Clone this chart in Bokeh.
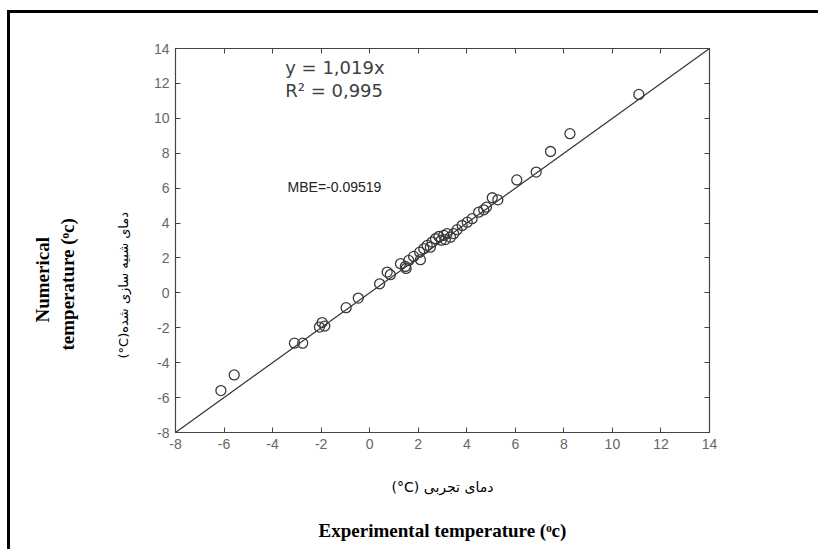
from bokeh.plotting import figure
from bokeh.models import Range1d, LinearAxis, Label, FixedTicker, Title
from bokeh.embed import file_html
from bokeh.resources import INLINE

# Experimental (x) vs numerical (y) temperature
exp_temp = [-6.13, -5.58, -3.10, -2.76, -2.07, -1.96, -1.85, -0.97, -0.47,
            0.41, 0.72, 0.85, 1.27, 1.47, 1.50, 1.61, 1.81, 2.09, 2.06, 2.23,
            2.37, 2.50, 2.57, 2.71, 2.85, 2.95, 3.05, 3.12, 3.19, 3.33, 3.46,
            3.60, 3.81, 4.02, 4.22, 4.49, 4.70, 4.81, 5.05, 5.28,
            6.06, 6.86, 7.45, 8.25, 11.09]
num_temp = [-5.60, -4.70, -2.88, -2.88, -1.96, -1.70, -1.90, -0.85, -0.30,
            0.52, 1.19, 1.04, 1.67, 1.51, 1.40, 1.86, 2.09, 1.90, 2.33, 2.53,
            2.72, 2.62, 2.91, 3.10, 3.23, 3.02, 3.29, 3.05, 3.39, 3.19, 3.39,
            3.62, 3.86, 4.05, 4.25, 4.62, 4.76, 4.91, 5.45, 5.33,
            6.47, 6.92, 8.10, 9.12, 11.37]

line_x = [-8, 14]
line_y = [-8, 14]

tick_values = [-8, -6, -4, -2, 0, 2, 4, 6, 8, 10, 12, 14]
tick_labels = ["-8", "-6", "-4", "-2", "0", "2", "4", "6", "8", "10", "12", "14"]

RLE, PDF, LRI, PDI = "\u202b", "\u202c", "\u2066", "\u2069"
eq_text = "y = 1,019x"
r2_text = "R\u00b2 = 0,995"
mbe_text = "MBE=-0.09519"
x_title_fa = RLE + "دمای تجربی " + LRI + "(°C)" + PDI + PDF
x_title_en = "Experimental temperature (\u1d52c)"
y_title_fa = RLE + "دمای شبیه سازی شده" + LRI + "(°C)" + PDI + PDF
y_title_en1 = "Numerical"
y_title_en2 = "temperature (\u1d52c)"

p = figure(frame_width=534, frame_height=384,
           min_border_left=165, min_border_right=109,
           min_border_top=35, min_border_bottom=117,
           x_range=Range1d(-8, 14), y_range=Range1d(-8, 14),
           output_backend="svg", toolbar_location=None)
p.styles = {"margin-top": "10px", "margin-left": "7px",
            "border-top": "3px solid #000", "border-left": "3px solid #000"}
p.xgrid.visible = False
p.ygrid.visible = False
p.outline_line_color = "#444444"
p.background_fill_color = "white"
p.border_fill_color = "white"

bottom_axis = p.below[0]
left_axis = p.left[0]
top_axis = LinearAxis()
right_axis = LinearAxis()
p.add_layout(top_axis, "above")
p.add_layout(right_axis, "right")

overrides = {v: s for v, s in zip(tick_values, tick_labels)}
for ax in [bottom_axis, left_axis, top_axis, right_axis]:
    ax.ticker = FixedTicker(ticks=tick_values, minor_ticks=[])
    ax.major_tick_in = 5
    ax.major_tick_out = 0
    ax.minor_tick_in = 0
    ax.minor_tick_out = 0
    ax.minor_tick_line_color = None
    ax.axis_line_color = "#444444"
    ax.axis_line_width = 1.2
    ax.major_tick_line_color = "#444444"
    ax.major_label_text_font = "Liberation Sans"
    ax.major_label_text_font_size = "14px"
    ax.major_label_text_color = "#666666"
    ax.major_label_standoff = 6
    ax.major_label_overrides = dict(overrides)
for ax in [top_axis, right_axis]:
    ax.major_label_overrides = {v: "" for v in tick_values}
    ax.major_label_text_font_size = "0px"
    ax.major_label_standoff = 0

# Persian x title as the bottom axis label
bottom_axis.axis_label = x_title_fa
bottom_axis.axis_label_text_font = "DejaVu Sans"
bottom_axis.axis_label_text_font_size = "14px"
bottom_axis.axis_label_text_font_style = "normal"
bottom_axis.axis_label_text_color = "#000000"
bottom_axis.axis_label_standoff = 27

# English x title on an extra, tickless axis below
en_axis = LinearAxis(ticker=FixedTicker(ticks=[]), axis_label=x_title_en)
en_axis.axis_line_color = None
en_axis.major_tick_line_color = None
en_axis.minor_tick_line_color = None
en_axis.major_label_standoff = 0
en_axis.major_tick_out = 0
en_axis.major_tick_in = 0
en_axis.axis_label_standoff = 22
en_axis.axis_label_text_font = "Liberation Serif"
en_axis.axis_label_text_font_size = "19px"
en_axis.axis_label_text_font_style = "bold"
en_axis.axis_label_text_color = "#000000"
p.add_layout(en_axis, "below")

p.line(line_x, line_y, line_color="#333333", line_width=1.2)
p.scatter(exp_temp, num_temp, marker="circle", size=10, fill_color=None,
          line_color="#3a3a3a", line_width=1.3)

for txt, yy in [(eq_text, 12.92), (r2_text, 11.60)]:
    p.add_layout(Label(x=-3.48, y=yy, text=txt, text_font="DejaVu Sans",
                       text_font_size="18px", text_color="#404040",
                       text_baseline="middle"))
p.add_layout(Label(x=0.48, y=6.04, text=mbe_text, text_font="Liberation Sans",
                   text_font_size="14px", text_color="#222222",
                   text_align="right", text_baseline="middle"))

# y titles as side-panel titles (inner to outer)
p.add_layout(Title(text=y_title_fa, text_font="DejaVu Sans", text_font_size="13px",
                   text_font_style="normal", text_color="#000000", align="left",
                   offset=74, standoff=39), "left")
p.add_layout(Title(text=" ", text_font="DejaVu Sans", text_font_size="1px",
                   align="left", standoff=14), "left")
p.add_layout(Title(text=y_title_en2, text_font="Liberation Serif", text_font_size="19px",
                   text_font_style="bold", text_color="#000000", align="left",
                   offset=82, standoff=0), "left")
p.add_layout(Title(text=y_title_en1, text_font="Liberation Serif", text_font_size="19px",
                   text_font_style="bold", text_color="#000000", align="left",
                   offset=110, standoff=4), "left")

open("out.html", "w").write(file_html(p, INLINE))
